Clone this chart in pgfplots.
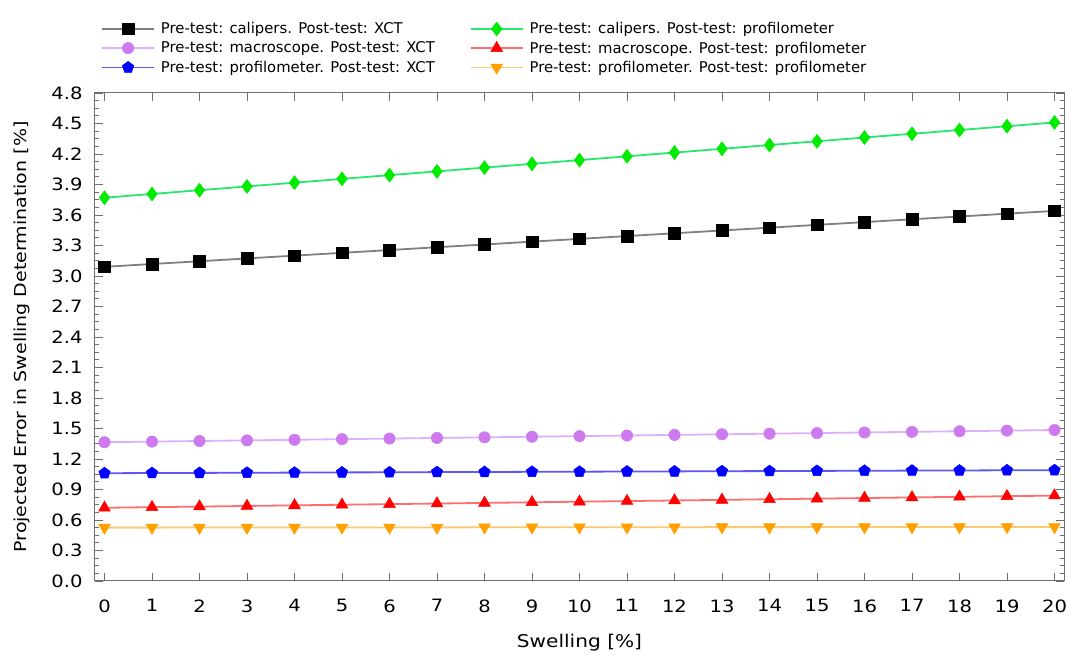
\documentclass[border=0pt]{standalone}
\usepackage{pgfplots}
\pgfplotsset{compat=1.18}
\usetikzlibrary{plotmarks}
\usepackage{fontspec}
\setmainfont{DejaVu Sans}[FakeStretch=1.15]
\newfontfamily\legfont{DejaVu Sans}
\definecolor{greenM}{RGB}{0,235,0}
\definecolor{greenL}{RGB}{40,230,110}
\definecolor{purpM}{RGB}{204,122,238}
\definecolor{purpL}{RGB}{222,175,250}
\definecolor{blueM}{RGB}{0,0,255}
\definecolor{blueL}{RGB}{90,90,240}
\definecolor{redM}{RGB}{255,0,0}
\definecolor{redL}{RGB}{255,110,110}
\definecolor{oraM}{RGB}{255,160,0}
\definecolor{oraL}{RGB}{255,200,110}
\definecolor{frameC}{RGB}{110,110,110}
\begin{document}
\begin{tikzpicture}
\begin{axis}[
  name=ax,
  scale only axis, width=969pt, height=488pt,
  xmin=-0.2, xmax=20.2, ymin=0, ymax=4.8,
  xtick={0,1,...,20},
  ytick={0,0.3,0.6,0.9,1.2,1.5,1.8,2.1,2.4,2.7,3.0,3.3,3.6,3.9,4.2,4.5,4.8},
  minor y tick num=3,
  tick align=inside,
  major tick length=8pt, minor tick length=4.5pt,
  every tick/.style={frameC, line width=0.8pt},
  axis line style={frameC, line width=1pt},
  /pgf/number format/assume math mode=true,
  ticklabel style={font=\fontsize{17}{20}\selectfont, text=black},
  xticklabel style={yshift=-15pt},
  yticklabel style={xshift=-9pt, /pgf/number format/.cd, fixed, fixed zerofill, precision=1},
  xlabel={Swelling [\%]},
  ylabel={Projected Error in Swelling Determination [\%]},
  xlabel style={at={([yshift=-62pt]axis description cs:0.5,0)}, anchor=center, font=\fontsize{17.5}{21}\selectfont, text=black},
  ylabel style={at={([xshift=-73pt]axis description cs:0,0.5)}, anchor=center, font=\fontsize{16.5}{20}\selectfont, text=black},
  legend image code/.code={\draw[mark repeat=2,mark phase=2] plot coordinates {(0pt,0pt) (26pt,0pt) (52pt,0pt)}; \path (56pt,0pt);},
  legend style={at={([xshift=6pt,yshift=17pt]axis description cs:0,1)}, anchor=south west,
    draw=none, fill=none, inner xsep=0pt, inner ysep=0pt, row sep=2.5pt,
    font=\legfont\fontsize{14.8}{18}\selectfont, text=black,
    /tikz/every even column/.append style={column sep=33pt}},
  legend columns=2,
  legend cell align=left,
]
\addplot[color=gray, line width=1.8pt, mark=square*, mark size=5.8pt, mark options={solid, line width=0.5pt, draw=black, fill=black}] coordinates {
(0,3.090) (1,3.118) (2,3.145) (3,3.173) (4,3.200) (5,3.228) (6,3.255) (7,3.283) (8,3.310) (9,3.338) (10,3.365)
(11,3.393) (12,3.420) (13,3.448) (14,3.475) (15,3.503) (16,3.530) (17,3.558) (18,3.585) (19,3.613) (20,3.640)};
\addlegendentry{Pre-test: calipers. Post-test: XCT}
\addplot[color=greenL, line width=1.8pt, mark=diamond*, mark size=7pt, mark options={solid, line width=0.5pt, draw=greenM, fill=greenM}] coordinates {
(0,3.770) (1,3.807) (2,3.844) (3,3.881) (4,3.918) (5,3.955) (6,3.992) (7,4.029) (8,4.066) (9,4.103) (10,4.140)
(11,4.177) (12,4.214) (13,4.251) (14,4.288) (15,4.325) (16,4.362) (17,4.399) (18,4.436) (19,4.473) (20,4.510)};
\addlegendentry{Pre-test: calipers. Post-test: profilometer}
\addplot[color=purpL, line width=1.8pt, mark=*, mark size=5.7pt, mark options={solid, line width=0.5pt, draw=purpM, fill=purpM}] coordinates {
(0,1.365) (1,1.371) (2,1.377) (3,1.383) (4,1.389) (5,1.395) (6,1.401) (7,1.407) (8,1.413) (9,1.419) (10,1.425)
(11,1.431) (12,1.437) (13,1.443) (14,1.449) (15,1.455) (16,1.461) (17,1.467) (18,1.473) (19,1.479) (20,1.485)};
\addlegendentry{Pre-test: macroscope. Post-test: XCT}
\addplot[color=redL, line width=1.8pt, mark=triangle*, mark size=6.8pt, mark options={solid, line width=0.5pt, draw=redM, fill=redM}] coordinates {
(0,0.720) (1,0.726) (2,0.732) (3,0.738) (4,0.744) (5,0.750) (6,0.756) (7,0.762) (8,0.768) (9,0.774) (10,0.780)
(11,0.786) (12,0.792) (13,0.798) (14,0.804) (15,0.810) (16,0.816) (17,0.822) (18,0.828) (19,0.834) (20,0.840)};
\addlegendentry{Pre-test: macroscope. Post-test: profilometer}
\addplot[color=blueL, line width=1.8pt, mark=pentagon*, mark size=6pt, mark options={solid, line width=0.5pt, draw=blueM, fill=blueM}] coordinates {
(0,1.060) (1,1.062) (2,1.063) (3,1.065) (4,1.066) (5,1.068) (6,1.069) (7,1.071) (8,1.072) (9,1.074) (10,1.075)
(11,1.077) (12,1.078) (13,1.080) (14,1.081) (15,1.083) (16,1.084) (17,1.086) (18,1.087) (19,1.089) (20,1.090)};
\addlegendentry{Pre-test: profilometer. Post-test: XCT}
\addplot[color=oraL, line width=1.8pt, mark=triangle*, mark size=6.8pt, mark options={solid, line width=0.5pt, rotate=180, draw=oraM, fill=oraM}] coordinates {
(0,0.525) (1,0.525) (2,0.526) (3,0.526) (4,0.526) (5,0.527) (6,0.527) (7,0.527) (8,0.528) (9,0.528) (10,0.529)
(11,0.529) (12,0.529) (13,0.530) (14,0.530) (15,0.530) (16,0.531) (17,0.531) (18,0.531) (19,0.532) (20,0.532)};
\addlegendentry{Pre-test: profilometer. Post-test: profilometer}
\end{axis}
\pgfresetboundingbox
\useasboundingbox ([shift={(-95pt,-77pt)}]ax.south west) rectangle ([shift={(5pt,93pt)}]ax.north east);
\end{tikzpicture}
\end{document}
